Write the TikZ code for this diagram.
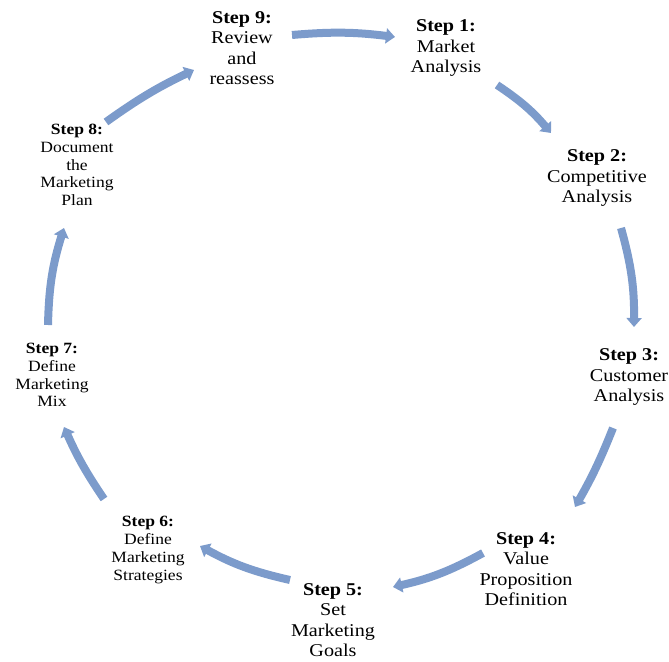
\documentclass[tikz,border=0pt]{standalone}
\usepackage{fontspec}
\setmainfont{Liberation Serif}[FakeStretch=1.12]
\usetikzlibrary{arrows.meta}
\definecolor{flowblue}{RGB}{124,155,203}
\tikzset{
  steptext/.style={align=center, font=\fontsize{18}{20.5}\selectfont, inner sep=1pt},
  flow/.style={flowblue, line width=8pt, -{Triangle[width=15pt,length=9pt]}}
}
\begin{document}
\begin{tikzpicture}[x=1pt,y=1pt]
  \useasboundingbox (0,0) rectangle (669,661);

  \foreach \i/\x/\y/\k/\t in {1/446/613/1/{Market\\Analysis},
      2/597/483/1/{Competitive\\Analysis},
      3/629/284/1/{Customer\\Analysis},
      4/526/92/1/{Value\\Proposition\\Definition},
      5/333/41/1/{Set\\Marketing\\Goals},
      6/148/111/0.87/{Define\\Marketing\\Strategies},
      7/52/286/0.87/{Define\\Marketing\\Mix},
      8/77/496/0.87/{Document\\the\\Marketing\\Plan},
      9/242/613/1/{Review\\and\\reassess}} {
    \node[steptext, scale=\k] (s\i) at (\x,\y) {\textbf{Step \i:}\\\t};
  }

  \foreach \a/\ax/\ay/\bx/\by/\b in {1/292/626/395/624/6, 2/497/576/551/528/8,
      3/621/433/634/334/8, 4/613/233/575/154/4, 5/483/108/393/74/8,
      6/290/81/200/115/8, 7/104/162/64/234/5, 8/48/336/64/433/8,
      9/106/539/194/591/5} {
    \coordinate (f\a) at (\ax,\ay);
    \coordinate (t\a) at (\bx,\by);
    \draw[flow] (f\a) to[bend left=\b] (t\a);
  }
\end{tikzpicture}
\end{document}
